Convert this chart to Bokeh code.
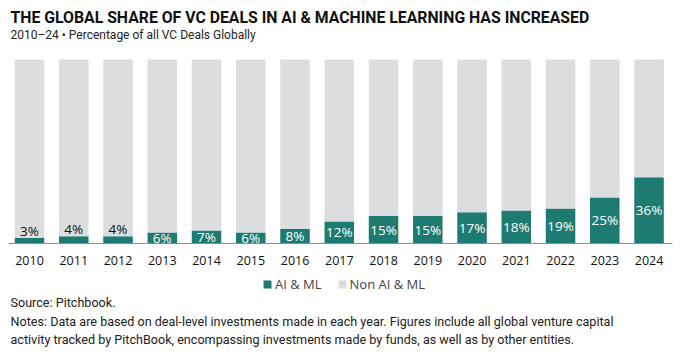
from bokeh.plotting import figure
from bokeh.models import ColumnDataSource, Legend, LegendItem, Label, LabelSet, FixedTicker
from bokeh.embed import file_html
from bokeh.resources import INLINE
from bokeh.core.properties import value

years = [2010, 2011, 2012, 2013, 2014, 2015, 2016, 2017, 2018, 2019, 2020, 2021, 2022, 2023, 2024]
ai_ml = [3, 4, 4, 6, 7, 6, 8, 12, 15, 15, 17, 18, 19, 25, 36]
non_ai_ml = [100 - v for v in ai_ml]
series_names = ["AI & ML", "Non AI & ML"]
title_text = "THE GLOBAL SHARE OF VC DEALS IN AI & MACHINE LEARNING HAS INCREASED"
subtitle_text = "2010\u201324 \u2022 Percentage of all VC Deals Globally"
note_lines = ["Source: Pitchbook.",
              "Notes: Data are based on deal-level investments made in each year. Figures include all global venture capital",
              "activity tracked by PitchBook, encompassing investments made by funds, as well as by other entities."]

TEAL = "#1e7b72"
GRAY = "#dcdddf"
TXT = "Roboto"

x = list(range(len(years)))
src = ColumnDataSource(dict(x=x, ai=ai_ml, non=non_ai_ml))

# frame covers the whole visible page; 0% sits at the baseline, 100% at the bar tops
p = figure(frame_width=664, frame_height=362, output_backend="svg", toolbar_location=None,
           title=None, x_range=(-0.475, 14.53), y_range=(-64.674, 132.065),
           min_border_left=8, min_border_right=12, min_border_top=0, min_border_bottom=0)

rs = p.vbar_stack(["ai", "non"], x="x", width=0.667, source=src, color=[TEAL, GRAY],
                  line_color=[TEAL, GRAY], line_width=0)

inside = [i for i, v in enumerate(ai_ml) if v >= 5]
outside = [i for i, v in enumerate(ai_ml) if v < 5]
src_in = ColumnDataSource(dict(x=[x[i] for i in inside], y=[ai_ml[i] / 2 for i in inside],
                               t=[f"{ai_ml[i]}%" for i in inside]))
src_out = ColumnDataSource(dict(x=[x[i] for i in outside], y=[ai_ml[i] for i in outside],
                                t=[f"{ai_ml[i]}%" for i in outside]))
p.add_layout(LabelSet(x="x", y="y", text="t", source=src_in, text_align="center",
                      text_baseline="middle", text_color="white", text_font=value("Open Sans"),
                      text_font_size="13.5px"))
p.add_layout(LabelSet(x="x", y="y", text="t", source=src_out, text_align="center",
                      text_baseline="bottom", text_color="#111111", text_font=value("Open Sans"),
                      text_font_size="13.5px", y_offset=-2))

p.xgrid.visible = False
p.ygrid.visible = False
p.yaxis.visible = False
p.outline_line_color = None
ax = p.xaxis[0]
ax.fixed_location = 0
ax.bounds = (-0.475, 14.53)
ax.ticker = FixedTicker(ticks=x)
ax.major_label_overrides = {i: str(y) for i, y in zip(x, years)}
ax.major_tick_line_color = None
ax.major_tick_out = 0
ax.major_tick_in = 0
ax.minor_tick_line_color = None
ax.axis_line_color = "#8c8c8c"
ax.axis_line_width = 1
ax.major_label_standoff = 13
ax.major_label_text_font = "Open Sans"
ax.major_label_text_font_size = "12.5px"
ax.major_label_text_color = "#111111"

legend = Legend(items=[LegendItem(label=series_names[0], renderers=[rs[0]]),
                       LegendItem(label=series_names[1], renderers=[rs[1]])],
                orientation="horizontal", location=(254, 69), border_line_color=None,
                background_fill_alpha=0, label_text_font="Open Sans", label_text_font_size="13px",
                glyph_width=10, glyph_height=10, label_standoff=3, spacing=15, padding=0, margin=0,
                label_height=16)
p.add_layout(legend)

p.add_layout(Label(x=2, y=345.3, x_units="screen", y_units="screen", text=title_text,
                   text_font=TXT, text_font_style="bold", text_font_size="15.8px",
                   text_color="#111111", text_baseline="alphabetic"))
p.add_layout(Label(x=2, y=328, x_units="screen", y_units="screen", text=subtitle_text,
                   text_font=TXT, text_font_size="12px", text_color="#222222",
                   text_baseline="alphabetic"))
for k, line in enumerate(note_lines):
    p.add_layout(Label(x=2, y=60 - 18.5 * k, x_units="screen", y_units="screen", text=line,
                       text_font=TXT, text_font_size="12.6px", text_color="#222222",
                       text_baseline="alphabetic"))

open("out.html", "w").write(file_html(p, INLINE))
